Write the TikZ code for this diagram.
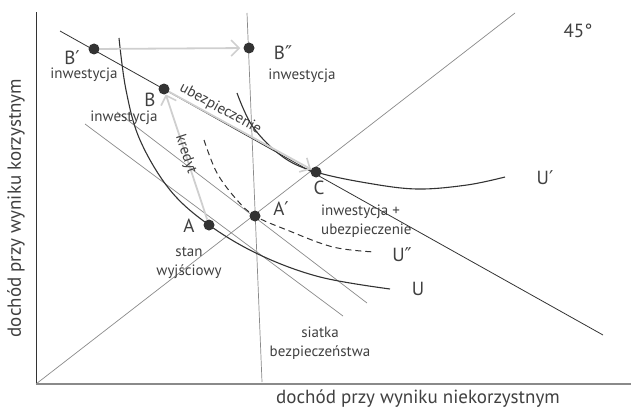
\documentclass[tikz,border=0pt]{standalone}
\usepackage{fontspec}
\setmainfont{PT Sans}
\newfontfamily\primfont{DejaVu Sans}
\newcommand{\pr}{{\primfont ′}}
\newcommand{\prr}{{\primfont ″}}
\usetikzlibrary{arrows.meta}
\definecolor{tekst}{HTML}{404040}
\definecolor{ciemny}{HTML}{333333}
\definecolor{szary}{HTML}{8A8A8A}
\definecolor{jasny}{HTML}{CFCFCF}
\begin{document}
\begin{tikzpicture}[x=1pt, y=-1pt,
	punkt/.style={circle, fill=ciemny, inner sep=0pt, minimum size=11pt},
	litera/.style={text=tekst, font=\fontsize{19}{21}\selectfont, inner sep=0pt},
	opis/.style={text=tekst, font=\fontsize{15}{19}\selectfont, inner sep=0pt, align=center},
	osie/.style={text=tekst, font=\fontsize{19}{22}\selectfont, inner sep=0pt},
	cienka/.style={szary, line width=0.7pt},
	krzywa/.style={ciemny, line width=1.1pt},
	strzalka/.style={jasny, line width=1.8pt, -{Straight Barb[length=8pt, width=16pt, line width=1.6pt]}}]
\useasboundingbox (0, 0) rectangle (631, 412);

%axes
\coordinate (origin) at (36, 384);
\draw[ciemny, line width=1pt] (origin) -- (36, 12);
\draw[szary, line width=2pt] (origin) -- (631, 384);
\node[osie, rotate=90] (osy) at (16, 208) {dochód przy wyniku korzystnym};
\node[osie] (osx) at (418, 399) {dochód przy wyniku niekorzystnym};

%45 degree line, budget line, safety net lines
\draw[cienka] (origin) -- (515, 13);
\node[litera] (kat) at (578, 31) {45°};
\draw[ciemny, line width=0.8pt] (60, 31) -- (603, 335);
\draw[cienka] (247, 13) -- (262, 382);
\draw[cienka] (85, 124) -- (343, 316);
\draw[cienka] (117, 112) -- (367, 303);

%indifference curves
\draw[krzywa] plot[smooth, tension=0.6] coordinates {(119, 38) (126, 90) (140, 140) (170, 190) (209, 225) (260, 255) (320, 277) (390, 289)};
\draw[krzywa] plot[smooth, tension=0.6] coordinates {(237, 93) (253, 127) (283, 157) (316, 172) (367, 183) (417, 189) (467, 185) (505, 177)};
\draw[ciemny, line width=1pt, dash pattern=on 6pt off 4pt] plot[smooth, tension=0.6] coordinates {(204, 140) (217, 173) (237, 200) (255, 216) (287, 230) (333, 247) (375, 252)};
\node[litera] (U) at (418, 289) {U};
\node[litera] (Upp) at (402, 255) {U\prr};
\node[litera] (Up) at (545, 178) {U\pr};

%points
\node[punkt] (Bp) at (94, 49) {};
\node[punkt] (Bpp) at (249, 48) {};
\node[punkt] (B) at (164, 89) {};
\node[punkt] (C) at (316, 172) {};
\node[punkt] (A) at (209, 225) {};
\node[punkt] (Ap) at (255, 216) {};

%moves
\draw[strzalka, shorten >=3pt] (Bp) -- (Bpp);
\draw[strzalka] (A) -- (B);
\draw[strzalka] (B) -- (C);
\path (B) -- (A) node[opis, pos=0.48, sloped] (kredyt) {kredyt};
\path (B) -- (C) node[opis, pos=0.33, sloped, above=2.5pt] (ubezp) {ubezpieczenie};

%labels
\node[litera] (lBp) at (72, 58) {B\pr};
\node[opis] (iBp) at (84, 75) {inwestycja};
\node[litera] (lBpp) at (283, 53) {B\prr};
\node[opis] (iBpp) at (302, 76) {inwestycja};
\node[litera] (lB) at (150, 100) {B};
\node[opis] (iB) at (124, 118) {inwestycja};
\node[litera] (lC) at (319, 188) {C};
\node[opis, align=left, anchor=north west] (iC) at (321, 205) {inwestycja +\\ubezpieczenie};
\node[litera] (lA) at (189, 226) {A};
\node[opis, anchor=north] (iA) at (189, 247) {stan\\wyjściowy};
\node[litera] (lAp) at (281, 209) {A\pr};
\node[opis, anchor=north] (siatka) at (320, 327) {siatka\\bezpieczeństwa};

\end{tikzpicture}
\end{document}
